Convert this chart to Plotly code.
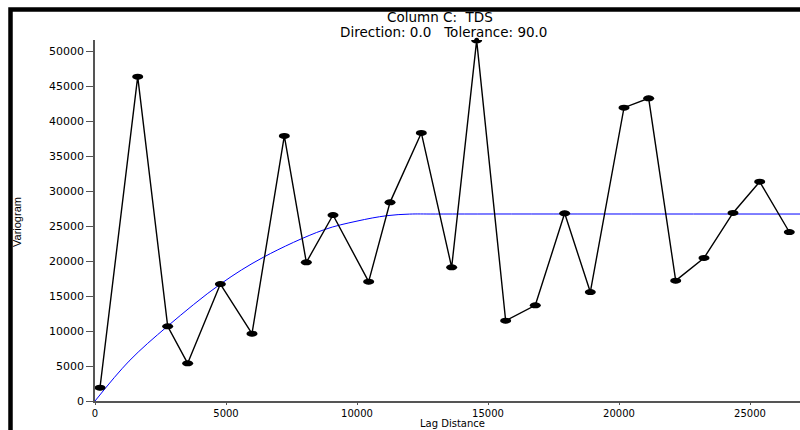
import plotly.graph_objects as go

# Experimental variogram (lag distance, variogram value)
lag = [191, 1630, 2774, 3537, 4785, 5992, 7226, 8066, 9084, 10445, 11260, 12455,
       13613, 14567, 15674, 16805, 17926, 18905, 20191, 21132, 22164, 23244,
       24351, 25370, 26500]
gamma = [1900, 46330, 10670, 5380, 16710, 9620, 37860, 19810, 26570, 17050,
         28380, 38290, 19100, 51520, 11470, 13670, 26810, 15570, 41900, 43240,
         17190, 20430, 26860, 31330, 24140]

# Fitted model curve
model_lag = [0, 1300, 2774, 4785, 6424, 8714, 10000, 11133, 12000, 13000, 27000]
model_gamma = [0, 5700, 10700, 16700, 20530, 24430, 25700, 26470, 26700, 26710, 26710]

x_ticks = [0, 5000, 10000, 15000, 20000, 25000]
y_ticks = [0, 5000, 10000, 15000, 20000, 25000, 30000, 35000, 40000, 45000, 50000]

title_line1 = "Column C:  TDS"
title_line2 = "Direction: 0.0   Tolerance: 90.0"
x_title = "Lag Distance"
y_title = "Variogram"

W, H = 800, 430
L, R, T, B = 95, 0, 40, 29
PW, PH = W - L - R, H - T - B


def px(xp):
    return (xp - L) / PW


def py(yp):
    return (H - B - yp) / PH


fig = go.Figure()
fig.add_trace(go.Scatter(x=model_lag, y=model_gamma, mode="lines",
                         line=dict(color="#0000ff", width=1, shape="spline"),
                         hoverinfo="skip", showlegend=False))
fig.add_trace(go.Scatter(x=lag, y=gamma, mode="lines+markers",
                         line=dict(color="black", width=1.4),
                         marker=dict(symbol="circle", size=5, color="black"),
                         cliponaxis=False, showlegend=False))

shapes = []
for xv, yv in zip(lag, gamma):
    shapes.append(dict(type="circle", xref="x", yref="y",
                       xsizemode="pixel", ysizemode="pixel",
                       xanchor=xv, yanchor=yv,
                       x0=-5.5, x1=5.5, y0=-3, y1=3,
                       fillcolor="black", line=dict(width=0), layer="above"))

# outer frame (left and top visible)
shapes.append(dict(type="path", xref="paper", yref="paper",
                   path=f"M {px(10.5)},{py(445)} L {px(10.5)},{py(9.5)} L {px(815)},{py(9.5)}",
                   line=dict(color="black", width=4.5)))

font_xtick = dict(family="DejaVu Sans", size=10, color="black")
font_ytick = dict(family="DejaVu Sans", size=11, color="black")

fig.update_layout(
    width=W, height=H,
    margin=dict(l=L, r=R, t=T, b=B, pad=0),
    paper_bgcolor="white", plot_bgcolor="white",
    showlegend=False,
    shapes=shapes,
    xaxis=dict(range=[0, (W - L) / 26.2 * 1000], tickvals=x_ticks, tickformat="d",
               showgrid=False, zeroline=False, showline=True, linecolor="#555555",
               linewidth=1.5, ticks="outside", ticklen=2, tickcolor="#555555",
               tickfont=font_xtick),
    yaxis=dict(range=[0, (H - B - T) / 0.007], tickvals=y_ticks, tickformat="d",
               showgrid=False, zeroline=False, showline=True, linecolor="#555555",
               linewidth=1.5, ticks="outside", ticklen=7, tickcolor="#555555",
               tickfont=font_ytick),
    annotations=[
        dict(text=title_line1, xref="paper", yref="paper", x=px(440), y=py(17),
             xanchor="center", yanchor="middle", showarrow=False, borderpad=0,
             font=dict(family="DejaVu Sans", size=13.5, color="black")),
        dict(text=title_line2, xref="paper", yref="paper", x=px(443), y=py(32),
             xanchor="center", yanchor="middle", showarrow=False, borderpad=0,
             font=dict(family="DejaVu Sans", size=13.5, color="black")),
        dict(text=x_title, xref="paper", yref="paper", x=px(453), y=py(423.5),
             xanchor="center", yanchor="middle", showarrow=False, borderpad=0,
             font=dict(family="DejaVu Sans", size=10, color="black")),
        dict(text=y_title, xref="paper", yref="paper", x=px(17), y=py(222),
             xanchor="center", yanchor="middle", showarrow=False, textangle=-90,
             borderpad=0,
             font=dict(family="Liberation Sans", size=11, color="black")),
    ],
)

fig.write_html("out.html")
